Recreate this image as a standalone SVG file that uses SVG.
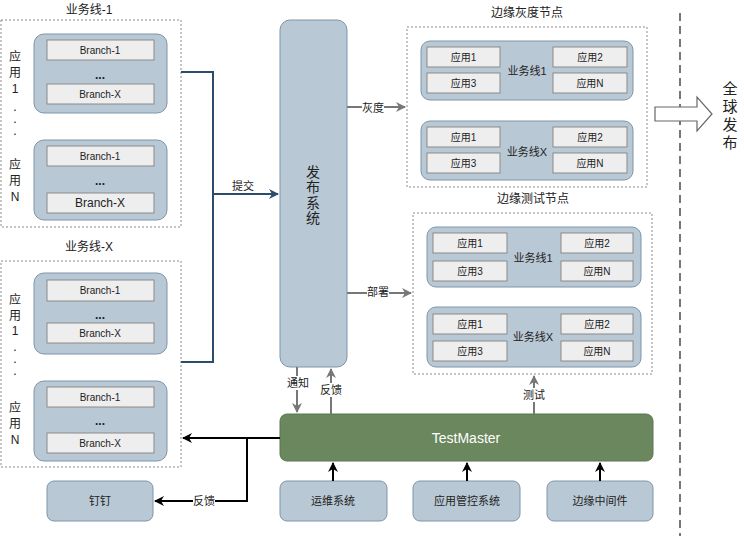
<svg xmlns="http://www.w3.org/2000/svg" width="744" height="536" viewBox="0 0 744 536">
<defs>
<style>
text{font-family:"Liberation Sans","Noto Sans CJK SC",sans-serif;fill:#222;text-anchor:middle;dominant-baseline:central}
.grp{fill:none;stroke:#8a8a8a;stroke-width:1;stroke-dasharray:2,2}
.app{fill:#b9c8d5;stroke:#7e95a8;stroke-width:1}
.br{fill:#eeeeee;stroke:#8a8a8a;stroke-width:1}
.t10{font-size:10px}
.t11{font-size:11px}
.t12{font-size:12px}
.dot{font-size:9px;font-weight:bold}
.blue{fill:none;stroke:#2c4c6c;stroke-width:2}
.gray{fill:none;stroke:#777;stroke-width:2}
.blk{fill:none;stroke:#000;stroke-width:2}
</style>
<marker id="ab" viewBox="0 0 10 10" refX="9" refY="5" markerWidth="5" markerHeight="5" orient="auto"><path d="M0,0L10,5L0,10L3,5z" fill="#2c4c6c"/></marker>
<marker id="ag" viewBox="0 0 10 10" refX="9" refY="5" markerWidth="5" markerHeight="5" orient="auto"><path d="M0,0L10,5L0,10L3,5z" fill="#777"/></marker>
<marker id="ak" viewBox="0 0 10 10" refX="9" refY="5" markerWidth="5" markerHeight="5" orient="auto"><path d="M0,0L10,5L0,10L3,5z" fill="#000"/></marker>
</defs>
<rect width="744" height="536" fill="#fff"/>

<!-- 业务线-1 -->
<g id="biz1">
<text x="89" y="10" class="t12">业务线-1</text>
<rect x="1" y="20" width="180" height="207" class="grp"/>
<text x="15" y="57" class="t12">应</text><text x="15" y="73" class="t12">用</text><text x="15" y="89" class="t12">1</text>
<text x="15" y="108" class="dot">.</text><text x="15" y="120" class="dot">.</text><text x="15" y="132" class="dot">.</text>
<text x="15" y="165" class="t12">应</text><text x="15" y="181" class="t12">用</text><text x="15" y="197" class="t12">N</text>
<g id="biz1-app1">
<rect x="34" y="34" width="133" height="79" rx="10" class="app"/>
<rect x="47" y="40" width="107" height="20" class="br"/><text x="100" y="50" class="t10">Branch-1</text>
<text x="100" y="75" class="t12" font-weight="bold">...</text>
<rect x="47" y="84" width="107" height="20" class="br"/><text x="100" y="94" class="t10">Branch-X</text>
</g>
<g id="biz1-appN">
<rect x="34" y="140" width="133" height="80" rx="10" class="app"/>
<rect x="47" y="146" width="107" height="20" class="br"/><text x="100" y="156" class="t10">Branch-1</text>
<text x="100" y="181" class="t12" font-weight="bold">...</text>
<rect x="47" y="193" width="107" height="20" class="br"/><text x="100" y="203" class="t12">Branch-X</text>
</g>
</g>

<!-- 业务线-X -->
<g id="bizX">
<text x="89" y="247" class="t12">业务线-X</text>
<rect x="1" y="261" width="180" height="206" class="grp"/>
<text x="15" y="300" class="t12">应</text><text x="15" y="316" class="t12">用</text><text x="15" y="331" class="t12">1</text>
<text x="15" y="348" class="dot">.</text><text x="15" y="360" class="dot">.</text><text x="15" y="372" class="dot">.</text>
<text x="15" y="408" class="t12">应</text><text x="15" y="424" class="t12">用</text><text x="15" y="440" class="t12">N</text>
<g id="bizX-app1">
<rect x="34" y="273" width="133" height="81" rx="10" class="app"/>
<rect x="47" y="280" width="107" height="21" class="br"/><text x="100" y="290.5" class="t10">Branch-1</text>
<text x="100" y="315" class="t12" font-weight="bold">...</text>
<rect x="47" y="323" width="107" height="20" class="br"/><text x="100" y="333" class="t10">Branch-X</text>
</g>
<g id="bizX-appN">
<rect x="34" y="381" width="133" height="80" rx="10" class="app"/>
<rect x="47" y="387" width="107" height="20" class="br"/><text x="100" y="397" class="t10">Branch-1</text>
<text x="100" y="421" class="t12" font-weight="bold">...</text>
<rect x="47" y="433" width="107" height="20" class="br"/><text x="100" y="443" class="t10">Branch-X</text>
</g>
</g>

<!-- 发布系统 -->
<g id="release">
<rect x="280" y="20" width="67" height="347" rx="10" class="app"/>
<text x="313" y="172" font-size="14">发</text>
<text x="313" y="187" font-size="14">布</text>
<text x="313" y="203" font-size="14">系</text>
<text x="313" y="218" font-size="14">统</text>
</g>

<!-- 边缘灰度节点 -->
<g id="gray-nodes">
<text x="527" y="13" class="t12">边缘灰度节点</text>
<rect x="407" y="27" width="240" height="160" class="grp"/>
<g id="gray-biz1">
<rect x="421" y="41" width="212" height="59" rx="9" class="app"/>
<rect x="427" y="47" width="73" height="20" class="br"/><text x="463.5" y="57" class="t10">应用1</text>
<rect x="427" y="73" width="73" height="20" class="br"/><text x="463.5" y="83" class="t10">应用3</text>
<rect x="553" y="47" width="74" height="20" class="br"/><text x="590" y="57" class="t10">应用2</text>
<rect x="553" y="73" width="74" height="20" class="br"/><text x="590" y="83" class="t10">应用N</text>
<text x="527" y="71" class="t11">业务线1</text>
</g>
<g id="gray-bizX">
<rect x="421" y="121" width="212" height="59" rx="9" class="app"/>
<rect x="427" y="127" width="73" height="20" class="br"/><text x="463.5" y="137" class="t10">应用1</text>
<rect x="427" y="153" width="73" height="20" class="br"/><text x="463.5" y="163" class="t10">应用3</text>
<rect x="553" y="127" width="74" height="20" class="br"/><text x="590" y="137" class="t10">应用2</text>
<rect x="553" y="153" width="74" height="20" class="br"/><text x="590" y="163" class="t10">应用N</text>
<text x="527" y="152" class="t11">业务线X</text>
</g>
</g>

<!-- 边缘测试节点 -->
<g id="test-nodes">
<text x="533" y="199" class="t12">边缘测试节点</text>
<rect x="413" y="213" width="239" height="161" class="grp"/>
<g id="test-biz1">
<rect x="427" y="227" width="214" height="60" rx="9" class="app"/>
<rect x="433" y="233" width="74" height="20" class="br"/><text x="470" y="243" class="t10">应用1</text>
<rect x="433" y="261" width="74" height="20" class="br"/><text x="470" y="271" class="t10">应用3</text>
<rect x="561" y="233" width="72" height="20" class="br"/><text x="597" y="243" class="t10">应用2</text>
<rect x="561" y="261" width="72" height="20" class="br"/><text x="597" y="271" class="t10">应用N</text>
<text x="533" y="258" class="t11">业务线1</text>
</g>
<g id="test-bizX">
<rect x="427" y="307" width="214" height="60" rx="9" class="app"/>
<rect x="433" y="314" width="74" height="20" class="br"/><text x="470" y="324" class="t10">应用1</text>
<rect x="433" y="341" width="74" height="20" class="br"/><text x="470" y="351" class="t10">应用3</text>
<rect x="561" y="314" width="72" height="20" class="br"/><text x="597" y="324" class="t10">应用2</text>
<rect x="561" y="341" width="72" height="20" class="br"/><text x="597" y="351" class="t10">应用N</text>
<text x="533" y="337" class="t11">业务线X</text>
</g>
</g>

<!-- 全球发布 -->
<g id="global">
<line x1="680" y1="13" x2="680" y2="536" stroke="#777" stroke-width="2" stroke-dasharray="8,5"/>
<path d="M655,107H697V97L712,114L697,131V121H655z" fill="#fff" stroke="#666" stroke-width="1.2"/>
<text x="730" y="88" font-size="15">全</text>
<text x="730" y="106" font-size="15">球</text>
<text x="730" y="124" font-size="15">发</text>
<text x="730" y="142" font-size="15">布</text>
</g>

<!-- TestMaster -->
<g id="testmaster">
<rect x="280" y="414" width="373" height="47" rx="7" fill="#6a875e" stroke="#5b7750" stroke-width="1"/>
<text x="466" y="438" font-size="14" style="fill:#fff">TestMaster</text>
</g>

<g id="dingding">
<rect x="47" y="481" width="106" height="40" rx="7" class="app"/>
<text x="100" y="501" class="t11">钉钉</text>
</g>
<g id="ops">
<rect x="280" y="481" width="107" height="40" rx="7" class="app"/>
<text x="333" y="501" class="t11">运维系统</text>
</g>
<g id="appctl">
<rect x="413" y="481" width="107" height="40" rx="7" class="app"/>
<text x="467" y="501" class="t11">应用管控系统</text>
</g>
<g id="edgemw">
<rect x="547" y="481" width="106" height="40" rx="7" class="app"/>
<text x="600" y="501" class="t11">边缘中间件</text>
</g>

<!-- connectors -->
<g id="connectors">
<path d="M181,72H213V362H181" class="blue"/>
<line x1="213" y1="194" x2="278" y2="194" class="blue" marker-end="url(#ab)"/>
<text x="243" y="186" class="t11">提交</text>

<line x1="347" y1="107" x2="405" y2="107" class="gray" marker-end="url(#ag)"/>
<rect x="362" y="101" width="22" height="14" fill="#fff"/>
<text x="373" y="108" class="t11">灰度</text>

<line x1="347" y1="293" x2="411" y2="293" class="gray" marker-end="url(#ag)"/>
<rect x="367" y="286" width="22" height="14" fill="#fff"/>
<text x="378" y="292" class="t11">部署</text>

<line x1="297" y1="367" x2="297" y2="412" class="gray" marker-end="url(#ag)"/>
<rect x="286" y="376" width="22" height="14" fill="#fff"/>
<text x="298" y="383" class="t11">通知</text>

<line x1="331" y1="414" x2="331" y2="369" class="gray" marker-end="url(#ag)"/>
<rect x="320" y="383" width="22" height="14" fill="#fff"/>
<text x="331" y="390" class="t11">反馈</text>

<line x1="534" y1="414" x2="534" y2="376" class="gray" marker-end="url(#ag)"/>
<rect x="523" y="388" width="22" height="14" fill="#fff"/>
<text x="534" y="395" class="t11">测试</text>

<line x1="280" y1="438" x2="183" y2="438" class="blk" marker-end="url(#ak)"/>
<path d="M247,438V501H155" class="blk" marker-end="url(#ak)"/>
<rect x="193" y="494" width="22" height="14" fill="#fff"/>
<text x="204" y="501" class="t11">反馈</text>

<line x1="333" y1="481" x2="333" y2="463" class="blk" marker-end="url(#ak)"/>
<line x1="467" y1="481" x2="467" y2="463" class="blk" marker-end="url(#ak)"/>
<line x1="600" y1="481" x2="600" y2="463" class="blk" marker-end="url(#ak)"/>
</g>
</svg>
